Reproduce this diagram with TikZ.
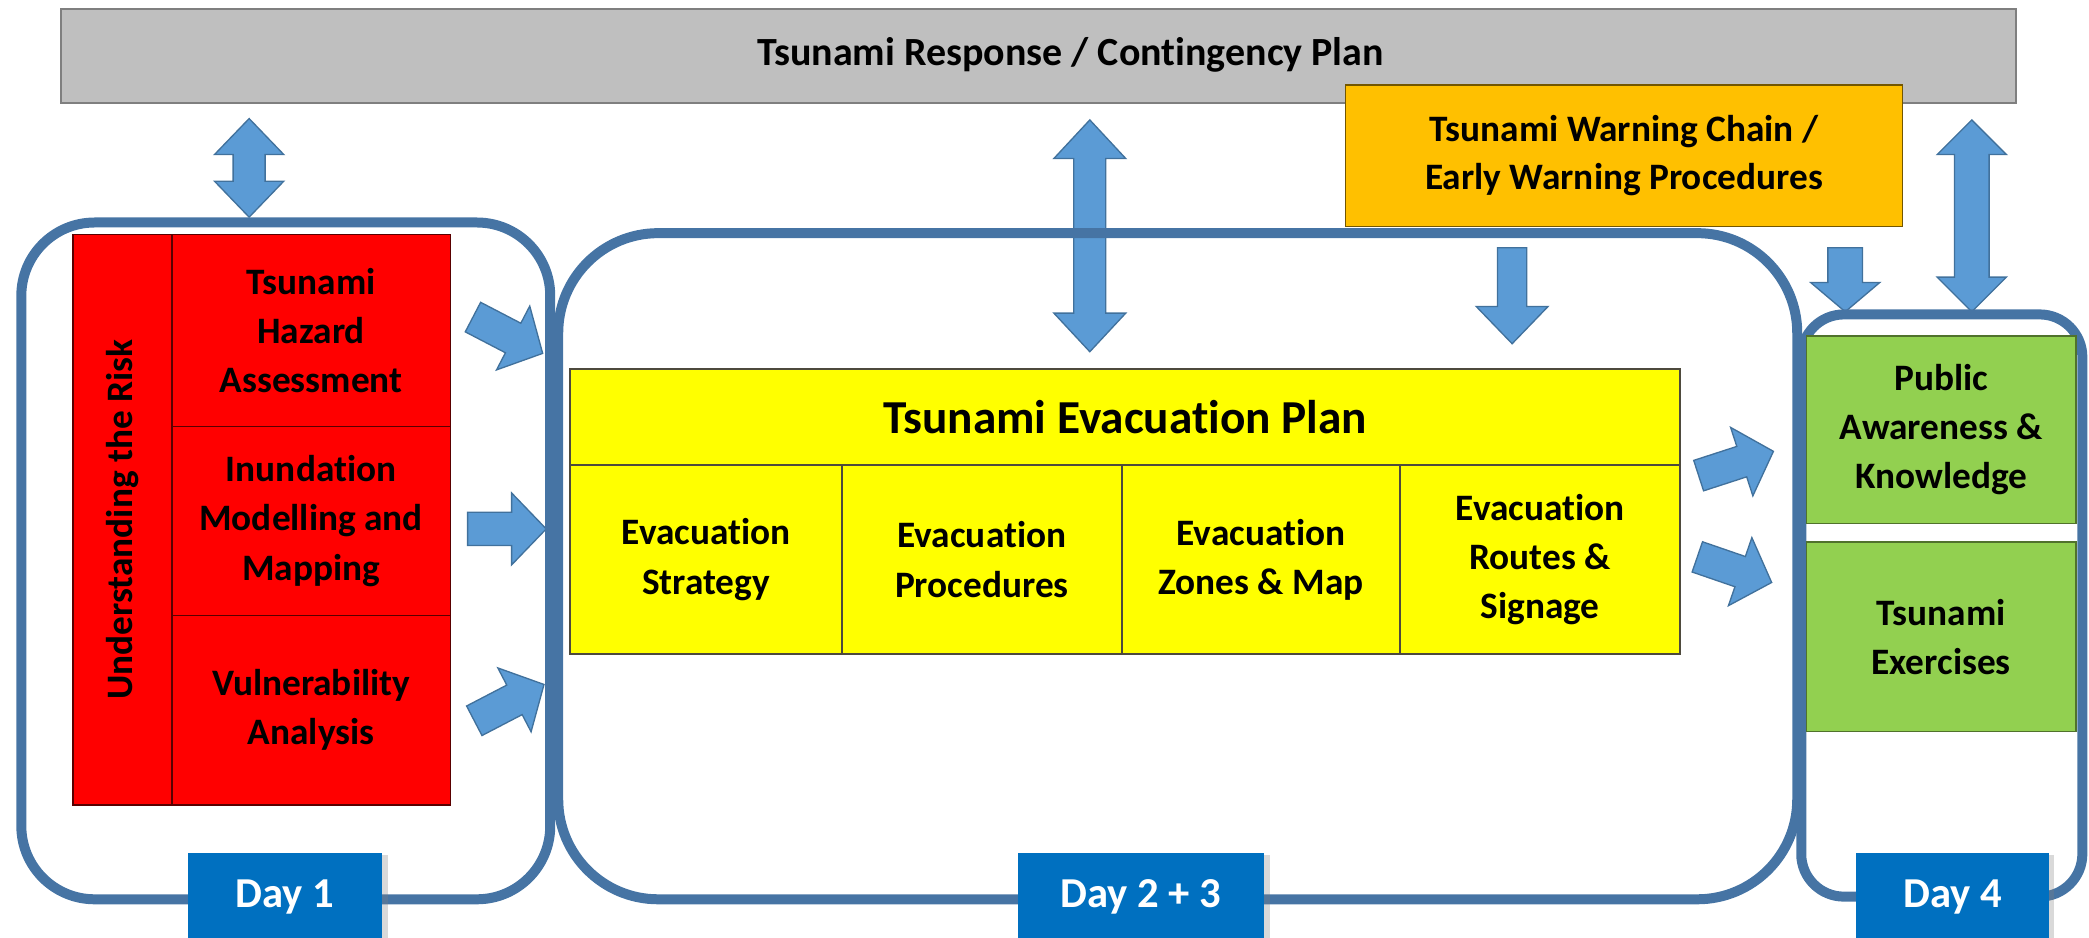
\documentclass[tikz,border=0pt]{standalone}
\usepackage{fontspec}
\setmainfont{Carlito}[Ligatures=NoCommon]
\usetikzlibrary{shadows}
\definecolor{boxblue}{HTML}{4674A4}
\definecolor{arrowfill}{HTML}{5B9BD5}
\definecolor{arrowline}{HTML}{41719C}
\definecolor{daybg}{HTML}{0070C0}
\definecolor{graybar}{HTML}{BFBFBF}
\definecolor{grayline}{HTML}{7F7F7F}
\definecolor{orangebox}{HTML}{FFC000}
\definecolor{greenbox}{HTML}{92D050}
\definecolor{yellowbox}{HTML}{FFFF00}
\newcommand{\bxfont}{\bfseries\fontsize{28}{37}\selectfont}
\newcommand{\ttlfont}{\bfseries\fontsize{35.5}{40}\selectfont}
\newcommand{\dayfont}{\bfseries\fontsize{32}{36}\selectfont}
% single block arrow: tail centre, angle, length, shaft half width, head half width, head length
\newcommand{\sglarrow}[6]{\draw[blockarrow, shift={#1}, rotate=#2]
  (0,-#4) -- ({#3-#6},-#4) -- ({#3-#6},-#5) -- (#3,0) -- ({#3-#6},#5) -- ({#3-#6},#4) -- (0,#4) -- cycle;}
% double block arrow: centre, angle, length, shaft half width, head half width, head length
\newcommand{\dblarrow}[6]{\draw[blockarrow, shift={#1}, rotate=#2]
  ({-#3/2},0) -- ({-#3/2+#6},#5) -- ({-#3/2+#6},#4) -- ({#3/2-#6},#4) -- ({#3/2-#6},#5) -- ({#3/2},0)
  -- ({#3/2-#6},-#5) -- ({#3/2-#6},-#4) -- ({-#3/2+#6},-#4) -- ({-#3/2+#6},-#5) -- cycle;}
\begin{document}
\begin{tikzpicture}[x=1pt,y=-1pt,
  daybox/.style={draw=boxblue, line width=7.5pt, rounded corners=#1, inner sep=0pt},
  blockarrow/.style={fill=arrowfill, draw=arrowline, line width=1pt, line join=miter},
  cell/.style={inner sep=0pt, align=center, font=\bxfont, text=black},
  redcell/.style={cell, fill=red, draw=red!35!black, line width=1.2pt},
  yellowcell/.style={cell, fill=yellowbox, draw=black!80!yellow, line width=1.2pt},
  greencell/.style={cell, fill=greenbox, draw=black!45!greenbox, line width=1.2pt},
  daylabel/.style={fill=daybg, inner sep=0pt, text=white, font=\dayfont,
    drop shadow={shadow xshift=4pt, shadow yshift=-2pt, opacity=0.3}}
]
\useasboundingbox (0,0) rectangle (1568,704);

% block arrows
\dblarrow{(187,126)}{90}{74}{12}{26}{27}
\dblarrow{(818,177)}{90}{174}{12}{27}{29}
\sglarrow{(1135,186)}{-90}{72}{11}{27}{28}
\sglarrow{(1385,186)}{-90}{48}{13}{26}{22}
\dblarrow{(1480,162)}{90}{144}{13}{26}{26}
\sglarrow{(355,238)}{-27.5}{59}{12.5}{27}{25}
\sglarrow{(351,397)}{0}{59}{12.5}{27}{26}
\sglarrow{(356,541)}{27.5}{59}{12.5}{27}{25}
\sglarrow{(1275,357)}{18}{59}{12}{27}{25}
\sglarrow{(1274,418)}{-19}{59}{12}{27}{25}

% day frames
\node[daybox=55, minimum width=397pt, minimum height=508pt] (d1) at (214.5,421) {};
\node[daybox=75, minimum width=930pt, minimum height=500pt] (d23) at (884,425) {};
\node[daybox=32, minimum width=211pt, minimum height=437pt] (d4) at (1457.5,454.5) {};

% top bar
\node[fill=graybar, draw=grayline, line width=1.5pt, minimum width=1467pt, minimum height=70pt,
  inner sep=0pt] (resp) at (779.5,42) {};
\node[font=\bfseries\fontsize{30}{34}\selectfont, inner sep=0pt] (resptxt) at (803.5,41)
  {Tsunami Response / Contingency Plan};

% warning chain
\node[cell, fill=orangebox, draw=black!55!orangebox, line width=1.2pt, minimum width=418pt,
  minimum height=106pt, font=\bfseries\fontsize{28}{36}\selectfont] (warn) at (1219,117)
  {Tsunami Warning Chain /\\Early Warning Procedures};

% understanding the risk
\node[redcell, minimum width=74pt, minimum height=428pt] (und) at (92,390) {};
\node[rotate=90, font=\bxfont, inner sep=0pt] (undtxt) at (und.center) {Understanding the Risk};
\node[redcell, minimum width=209pt, minimum height=144pt] (haz) at (233.5,248) {Tsunami\\Hazard\\Assessment};
\node[redcell, minimum width=209pt, minimum height=142pt] (inu) at (233.5,391) {Inundation\\Modelling and\\Mapping};
\node[redcell, minimum width=209pt, minimum height=142pt] (vul) at (233.5,533) {Vulnerability\\Analysis};

% evacuation plan
\node[yellowcell, minimum width=833pt, minimum height=72pt, font=\ttlfont] (tep) at (844.5,313) {Tsunami Evacuation Plan};
\node[yellowcell, minimum width=204pt, minimum height=142pt] (est) at (530,420) {Evacuation\\Strategy};
\node[yellowcell, minimum width=210pt, minimum height=142pt] (epr) at (737,420) {Evacuation\\Procedures};
\node[yellowcell, minimum width=209pt, minimum height=142pt] (ezm) at (946.5,420) {Evacuation\\Zones \& Map};
\node[yellowcell, minimum width=210pt, minimum height=142pt] (ers) at (1156,420) {Evacuation\\Routes \&\\Signage};

% day 4 content
\node[greencell, minimum width=202pt, minimum height=141pt] (pak) at (1457,322.5) {Public\\Awareness \&\\Knowledge};
\node[greencell, minimum width=202pt, minimum height=142pt] (tex) at (1457,478) {Tsunami\\Exercises};

% day labels
\node[daylabel, minimum width=146pt, minimum height=66pt] (l1) at (214,673) {Day 1};
\node[daylabel, minimum width=185pt, minimum height=66pt] (l23) at (856.5,673) {Day 2 + 3};
\node[daylabel, minimum width=145pt, minimum height=66pt] (l4) at (1465.5,673) {Day 4};
\end{tikzpicture}
\end{document}
